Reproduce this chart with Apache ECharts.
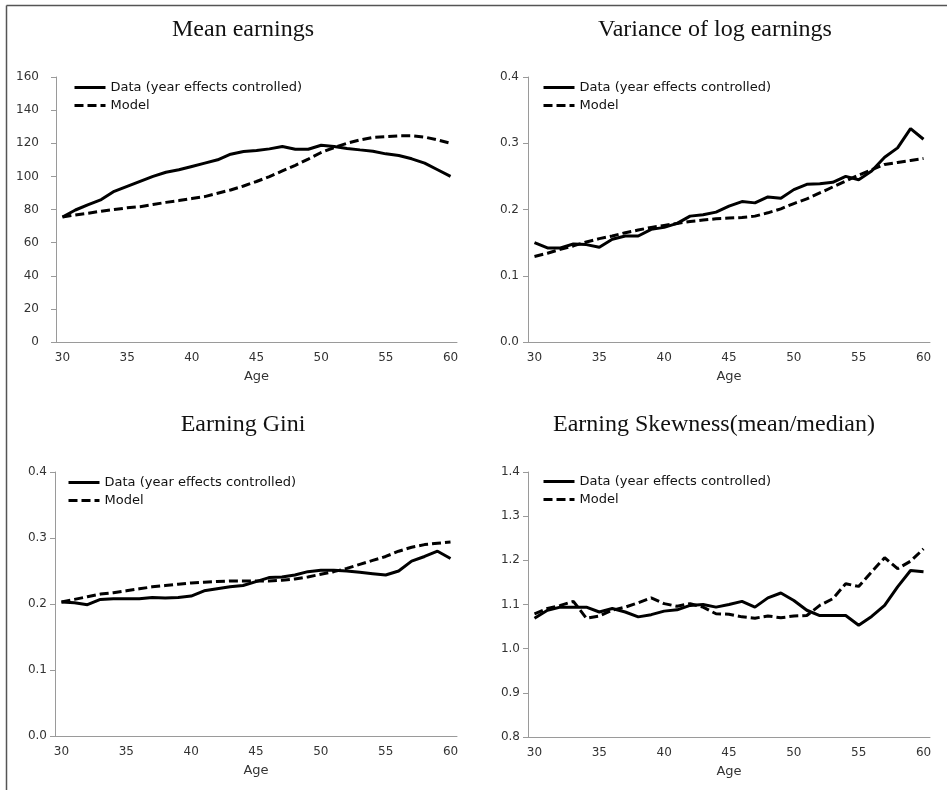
<!DOCTYPE html>
<html>
<head>
<meta charset="utf-8">
<script src="https://cdn.jsdelivr.net/npm/echarts@6/dist/echarts.min.js"></script>
<style>
html,body{margin:0;padding:0;background:#fff;}
#chart{width:947px;height:790px;}
</style>
</head>
<body>
<div id="chart"></div>
<script>
// ---- data ----
var ages = [30,31,32,33,34,35,36,37,38,39,40,41,42,43,44,45,46,47,48,49,50,51,52,53,54,55,56,57,58,59,60];
var seriesNames = ['Data (year effects controlled)', 'Model'];
var panelTitles = ['Mean earnings', 'Variance of log earnings', 'Earning Gini', 'Earning Skewness(mean/median)'];

var meanData  = [75.5,79.7,83,86,91,94,97,100,102.5,104,106,108,110,113.4,115,115.6,116.6,118,116.4,116.4,118.8,118,116.8,116,115.2,113.6,112.6,110.6,108,104,100];
var meanModel = [75.5,76.7,77.7,79,80,81,81.7,83,84.3,85.4,86.6,87.8,89.8,91.8,94.2,96.9,99.9,103.3,106.7,110.4,114.4,117.4,120,122,123.5,124,124.5,124.5,123.7,122,120];

var varData  = [0.150,0.142,0.142,0.148,0.147,0.143,0.155,0.160,0.160,0.170,0.173,0.179,0.190,0.192,0.196,0.205,0.212,0.210,0.219,0.217,0.230,0.238,0.239,0.241,0.250,0.245,0.258,0.279,0.293,0.322,0.306];
var varModel = [0.129,0.134,0.140,0.145,0.151,0.156,0.160,0.165,0.169,0.173,0.176,0.179,0.182,0.184,0.186,0.187,0.188,0.190,0.195,0.201,0.209,0.216,0.225,0.234,0.243,0.252,0.260,0.268,0.271,0.274,0.277];

var giniData  = [0.203,0.202,0.199,0.207,0.208,0.208,0.208,0.210,0.209,0.210,0.212,0.220,0.223,0.226,0.228,0.234,0.240,0.241,0.244,0.249,0.251,0.251,0.250,0.248,0.246,0.244,0.250,0.265,0.272,0.280,0.269];
var giniModel = [0.203,0.207,0.211,0.215,0.217,0.220,0.223,0.226,0.228,0.230,0.232,0.233,0.234,0.235,0.235,0.235,0.235,0.236,0.238,0.241,0.245,0.249,0.254,0.260,0.266,0.272,0.280,0.286,0.290,0.292,0.294];

var skewData  = [1.069,1.087,1.094,1.094,1.094,1.083,1.091,1.083,1.072,1.077,1.085,1.088,1.098,1.100,1.094,1.100,1.107,1.094,1.115,1.126,1.109,1.087,1.075,1.075,1.075,1.053,1.073,1.098,1.140,1.177,1.174];
var skewModel = [1.079,1.091,1.098,1.107,1.069,1.074,1.087,1.094,1.104,1.115,1.102,1.096,1.102,1.094,1.079,1.078,1.072,1.069,1.074,1.070,1.074,1.075,1.098,1.113,1.147,1.141,1.174,1.206,1.181,1.198,1.226];

var yMins = [0, 0, 0, 0.8];
var yMaxs = [160, 0.4, 0.4, 1.4];
var yIntervals = [20, 0.1, 0.1, 0.1];

// ---- layout ----
var panels = [
  {data: meanData, model: meanModel, grid: {left: 56, top: 77, width: 401, height: 265}, titleX: 243, titleY: 18, legendX: 73, legendY: 81, labelMargin: 17, dec: 0},
  {data: varData, model: varModel, grid: {left: 528, top: 77, width: 402, height: 265}, titleX: 715, titleY: 18, legendX: 542, legendY: 81, labelMargin: 9, dec: 1},
  {data: giniData, model: giniModel, grid: {left: 55, top: 472, width: 402, height: 264}, titleX: 243, titleY: 413, legendX: 67, legendY: 476, labelMargin: 8, dec: 1},
  {data: skewData, model: skewModel, grid: {left: 528, top: 472, width: 402, height: 265}, titleX: 714, titleY: 413, legendX: 542, legendY: 475, labelMargin: 8, dec: 1}
];

var axisColor = '#9a9a9a';
var textColor = '#333333';

var option = {
  animation: false,
  backgroundColor: '#ffffff',
  title: [], legend: [], grid: [], xAxis: [], yAxis: [], series: [],
  graphic: [
    {type: 'line', shape: {x1: 6.5, y1: 5.5, x2: 947, y2: 5.5}, style: {stroke: '#555', lineWidth: 1.5}, silent: true},
    {type: 'line', shape: {x1: 6.5, y1: 5.5, x2: 6.5, y2: 790}, style: {stroke: '#555', lineWidth: 1.5}, silent: true}
  ]
};

panels.forEach(function (p, i) {
  option.title.push({
    text: panelTitles[i], left: p.titleX, top: p.titleY, textAlign: 'center', padding: 0,
    textStyle: {fontFamily: 'Liberation Serif', fontSize: 24, fontWeight: 'normal', color: '#111'}
  });
  option.legend.push({
    data: seriesNames, orient: 'vertical', left: p.legendX, top: p.legendY, padding: 0,
    itemWidth: 31, itemHeight: 14, itemGap: 5,
    itemStyle: {opacity: 0, borderWidth: 0},
    lineStyle: {width: 3, color: '#000'},
    textStyle: {fontFamily: 'DejaVu Sans', fontSize: 13, color: '#111'}
  });
  option.grid.push({left: p.grid.left, top: p.grid.top, width: p.grid.width, height: p.grid.height, containLabel: false});
  option.xAxis.push({
    type: 'category', gridIndex: i, data: ages, boundaryGap: true,
    name: 'Age', nameLocation: 'middle', nameGap: 28,
    nameTextStyle: {fontFamily: 'DejaVu Sans', fontSize: 13, color: textColor},
    axisLine: {show: true, lineStyle: {color: axisColor, width: 1}},
    axisTick: {show: false},
    axisLabel: {interval: 4, margin: 10, fontFamily: 'DejaVu Sans', fontSize: 12, color: textColor},
    splitLine: {show: false}
  });
  var dec = p.dec;
  option.yAxis.push({
    type: 'value', gridIndex: i, min: yMins[i], max: yMaxs[i], interval: yIntervals[i],
    axisLine: {show: true, lineStyle: {color: axisColor, width: 1}},
    axisTick: {show: true, length: 5, inside: false, lineStyle: {color: axisColor}},
    axisLabel: {margin: p.labelMargin, fontFamily: 'DejaVu Sans', fontSize: 12, color: textColor,
      formatter: function (v) { return dec ? (Math.round(v * 10) / 10).toFixed(1) : String(Math.round(v)); }},
    splitLine: {show: false}
  });
  option.series.push({
    name: seriesNames[0], type: 'line', xAxisIndex: i, yAxisIndex: i, data: p.data,
    symbol: 'none', smooth: false,
    lineStyle: {color: '#000', width: 3, type: 'solid'},
    itemStyle: {color: '#000'}
  });
  option.series.push({
    name: seriesNames[1], type: 'line', xAxisIndex: i, yAxisIndex: i, data: p.model,
    symbol: 'none', smooth: false,
    lineStyle: {color: '#000', width: 3, type: [9, 4], cap: 'butt'},
    itemStyle: {color: '#000'}
  });
});

var chart = echarts.init(document.getElementById('chart'), null, {renderer: 'canvas'});
chart.setOption(option);
</script>
</body>
</html>
